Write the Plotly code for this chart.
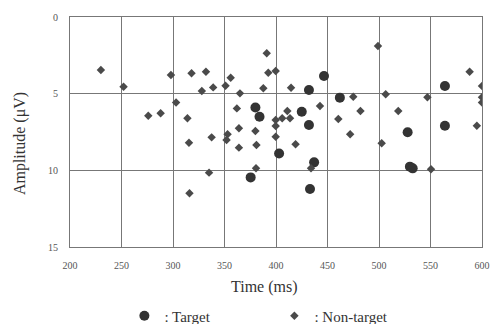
import plotly.graph_objects as go

# Target responses (large dots)
target_time = [380, 384, 446.6, 432, 425, 432, 462, 403, 527.8, 564, 564, 437, 433, 375.4, 530, 532.7]
target_amp = [5.9, 6.5, 3.85, 4.76, 6.18, 7.04, 5.26, 8.9, 7.52, 4.5, 7.09, 9.48, 11.22, 10.46, 9.76, 9.87]

# Non-target responses (small diamonds)
nontarget_time = [230, 252, 276, 288, 298, 303, 314, 315.5, 318, 328, 332, 337.5, 339, 351, 353, 352,
                  356, 362, 364, 364, 365, 335, 316, 391, 392.5, 399.7, 387.7, 414.6, 411, 406,
                  413.6, 399.7, 399.7, 380, 399.7, 381, 419, 442.7, 475, 460.5, 482, 472, 499,
                  506.5, 518.7, 502.6, 547, 588, 600, 600, 600, 595, 380.6, 434, 550.5]
nontarget_amp = [3.46, 4.55, 6.44, 6.28, 3.78, 5.57, 6.61, 8.2, 3.67, 4.83, 3.57, 7.85, 4.59, 4.48, 7.65, 8.02,
                 3.96, 5.96, 7.26, 8.52, 4.98, 10.15, 11.5, 2.37, 3.63, 3.52, 4.65, 4.61, 6.13, 6.61,
                 6.61, 6.72, 7.11, 7.44, 7.81, 8.35, 8.3, 5.8, 5.2, 6.65, 6.13, 7.65, 1.89,
                 5.04, 6.13, 8.24, 5.24, 3.57, 4.5, 5.24, 5.57, 7.09, 9.87, 9.87, 9.93]

x_ticks = [200, 250, 300, 350, 400, 450, 500, 550, 600]
y_ticks = [0, 5, 10, 15]

font_family = "Liberation Serif, Times New Roman, serif"

fig = go.Figure()
fig.add_trace(go.Scatter(
    x=target_time, y=target_amp, mode="markers", name=": Target",
    marker=dict(symbol="circle", size=10, color="#333333", line=dict(width=0)),
))
fig.add_trace(go.Scatter(
    x=nontarget_time, y=nontarget_amp, mode="markers", name=": Non-target",
    marker=dict(symbol="diamond", size=6.5, color="#4a4a4a", line=dict(width=0)),
))

fig.update_layout(
    width=493, height=324,
    margin=dict(l=70, r=11, t=17, b=77, autoexpand=False),
    paper_bgcolor="white", plot_bgcolor="white",
    font=dict(family=font_family, color="#444444"),
    showlegend=True,
    legend=dict(orientation="h", x=0.132, xanchor="left", y=-0.30, yanchor="middle",
                font=dict(size=15, family=font_family, color="#333333"),
                itemwidth=30, entrywidth=105, entrywidthmode="pixels", tracegroupgap=0),
    annotations=[
        dict(text="Time (ms)", xref="paper", yref="paper", x=0.471, y=-0.174,
             xanchor="center", yanchor="middle", showarrow=False,
             font=dict(size=16, color="#333333", family=font_family)),
        dict(text="Amplitude (μV)", xref="paper", yref="paper", x=-0.121, y=0.448,
             xanchor="center", yanchor="middle", showarrow=False, textangle=-90,
             font=dict(size=16, color="#333333", family=font_family)),
    ],
)
fig.update_xaxes(
    range=[200, 600], tickvals=x_ticks, ticktext=[str(v) for v in x_ticks],
    showgrid=True, gridcolor="#777777", gridwidth=1,
    showline=True, linecolor="#777777", linewidth=1, mirror=True,
    zeroline=False, ticks="outside", ticklen=9, tickcolor="rgba(0,0,0,0)",
    tickfont=dict(size=10, color="#555555"), automargin=False,
)
fig.update_yaxes(
    range=[15, 0], tickvals=y_ticks, ticktext=[str(v) for v in y_ticks],
    showgrid=True, gridcolor="#777777", gridwidth=1,
    showline=True, linecolor="#777777", linewidth=1, mirror=True,
    zeroline=False, ticks="outside", ticklen=9, tickcolor="rgba(0,0,0,0)",
    tickfont=dict(size=10, color="#555555"), automargin=False,
)

fig.write_html(
    "out.html",
    config={"displayModeBar": False},
    post_script="document.body.style.margin='0';document.body.style.overflow='hidden';",
)
